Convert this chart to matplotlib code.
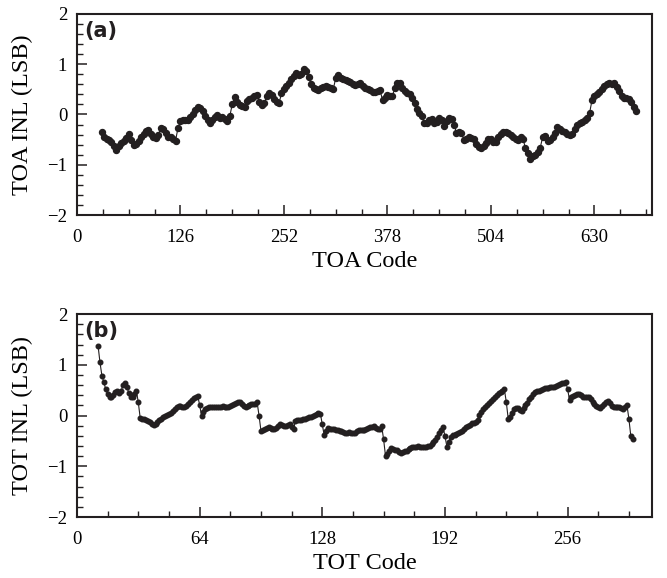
import numpy as np
import matplotlib
matplotlib.use("Agg")
import matplotlib.pyplot as plt
from matplotlib.ticker import MultipleLocator

# INL, TOA every 3rd code starting at 30
toa_start = 30
toa_inl = [
    -0.34, -0.44, -0.49, -0.51, -0.55, -0.62, -0.70, -0.63, -0.57, -0.53,
    -0.47, -0.38, -0.50, -0.61, -0.58, -0.52, -0.45, -0.38, -0.33, -0.31,
    -0.38, -0.45, -0.46, -0.41, -0.27, -0.28, -0.37, -0.44, -0.45, -0.48,
    -0.52, -0.27, -0.14, -0.11, -0.12, -0.11, -0.05, 0.01, 0.09, 0.15,
    0.13, 0.07, -0.04, -0.11, -0.18, -0.12, -0.05, -0.02, -0.08, -0.05,
    -0.09, -0.13, -0.04, 0.20, 0.35, 0.24, 0.19, 0.16, 0.15, 0.26,
    0.30, 0.32, 0.36, 0.39, 0.25, 0.19, 0.22, 0.36, 0.42, 0.39,
    0.31, 0.25, 0.22, 0.42, 0.50, 0.56, 0.62, 0.70, 0.76, 0.82,
    0.79, 0.80, 0.90, 0.86, 0.75, 0.60, 0.52, 0.51, 0.49, 0.52,
    0.55, 0.57, 0.54, 0.52, 0.50, 0.72, 0.78, 0.73, 0.71, 0.68,
    0.66, 0.64, 0.61, 0.58, 0.60, 0.62, 0.57, 0.53, 0.51, 0.48,
    0.45, 0.44, 0.47, 0.49, 0.28, 0.33, 0.39, 0.36, 0.37, 0.52,
    0.62, 0.63, 0.52, 0.47, 0.43, 0.40, 0.33, 0.22, 0.10, 0.03,
    -0.04, -0.18, -0.17, -0.12, -0.09, -0.17, -0.15, -0.08, -0.12, -0.22,
    -0.14, -0.08, -0.10, -0.20, -0.36, -0.35, -0.36, -0.50, -0.49, -0.44,
    -0.46, -0.49, -0.58, -0.64, -0.67, -0.62, -0.56, -0.49, -0.48, -0.54,
    -0.55, -0.45, -0.39, -0.34, -0.35, -0.37, -0.41, -0.44, -0.48, -0.51,
    -0.45, -0.48, -0.67, -0.77, -0.88, -0.82, -0.80, -0.75, -0.66, -0.45,
    -0.42, -0.52, -0.50, -0.45, -0.36, -0.25, -0.28, -0.32, -0.35, -0.38,
    -0.40, -0.39, -0.28, -0.20, -0.17, -0.15, -0.11, -0.07, 0.02, 0.28,
    0.37, 0.41, 0.44, 0.50, 0.57, 0.60, 0.62, 0.61, 0.62, 0.55,
    0.46, 0.36, 0.32, 0.33, 0.30, 0.24, 0.14, 0.07,
]

# TOT every code starting at 11
tot_start = 11
tot_inl = [
    1.38, 1.05, 0.79, 0.66, 0.52, 0.42, 0.36, 0.36, 0.40, 0.47,
    0.49, 0.45, 0.48, 0.60, 0.65, 0.57, 0.45, 0.37, 0.36, 0.42,
    0.49, 0.26, -0.05, -0.06, -0.07, -0.08, -0.10, -0.13, -0.17, -0.19,
    -0.16, -0.12, -0.09, -0.06, -0.03, 0.00, 0.02, 0.03, 0.05, 0.09,
    0.13, 0.16, 0.19, 0.18, 0.16, 0.16, 0.19, 0.23, 0.26, 0.30,
    0.34, 0.37, 0.39, 0.21, 0.00, 0.07, 0.13, 0.15, 0.16, 0.16,
    0.17, 0.17, 0.17, 0.16, 0.17, 0.18, 0.17, 0.16, 0.16, 0.18,
    0.21, 0.23, 0.25, 0.27, 0.26, 0.22, 0.18, 0.17, 0.19, 0.21,
    0.22, 0.23, 0.23, 0.26, 0.00, -0.30, -0.28, -0.26, -0.24, -0.23,
    -0.24, -0.27, -0.27, -0.24, -0.20, -0.17, -0.19, -0.21, -0.20, -0.18,
    -0.17, -0.22, -0.27, -0.10, -0.09, -0.09, -0.08, -0.07, -0.07, -0.05,
    -0.03, -0.02, 0.00, 0.02, 0.04, 0.05, 0.04, -0.17, -0.39, -0.30,
    -0.25, -0.26, -0.26, -0.27, -0.28, -0.28, -0.30, -0.30, -0.32, -0.34,
    -0.35, -0.33, -0.34, -0.35, -0.34, -0.31, -0.29, -0.28, -0.29, -0.28,
    -0.27, -0.25, -0.23, -0.22, -0.21, -0.24, -0.27, -0.26, -0.21, -0.47,
    -0.80, -0.76, -0.70, -0.64, -0.65, -0.67, -0.68, -0.71, -0.74, -0.72,
    -0.70, -0.69, -0.66, -0.63, -0.62, -0.62, -0.61, -0.60, -0.61, -0.62,
    -0.61, -0.61, -0.60, -0.60, -0.57, -0.52, -0.48, -0.42, -0.35, -0.28,
    -0.23, -0.40, -0.61, -0.53, -0.42, -0.39, -0.38, -0.37, -0.34, -0.32,
    -0.30, -0.26, -0.22, -0.20, -0.18, -0.15, -0.14, -0.12, -0.09, 0.02,
    0.08, 0.13, 0.17, 0.21, 0.25, 0.28, 0.32, 0.36, 0.40, 0.44,
    0.46, 0.48, 0.52, 0.27, -0.06, -0.03, 0.06, 0.13, 0.14, 0.14,
    0.11, 0.10, 0.15, 0.21, 0.25, 0.32, 0.37, 0.42, 0.47, 0.48,
    0.49, 0.51, 0.53, 0.54, 0.54, 0.55, 0.56, 0.56, 0.57, 0.59,
    0.61, 0.62, 0.64, 0.65, 0.67, 0.52, 0.31, 0.37, 0.39, 0.41,
    0.43, 0.43, 0.40, 0.37, 0.36, 0.37, 0.36, 0.33, 0.27, 0.23,
    0.19, 0.16, 0.14, 0.18, 0.22, 0.26, 0.29, 0.24, 0.19, 0.17,
    0.17, 0.16, 0.16, 0.15, 0.13, 0.16, 0.20, -0.07, -0.41, -0.47,
]

toa_ticks = [0, 126, 252, 378, 504, 630]
tot_ticks = [0, 64, 128, 192, 256]

toa_code = np.arange(toa_start, toa_start + 3 * len(toa_inl), 3)
tot_code = np.arange(tot_start, tot_start + len(tot_inl))

ink = "#231f20"
serif = "Liberation Serif"

fig = plt.figure(figsize=(6.67, 5.78), dpi=100)
ax1 = fig.add_axes([0.1154, 0.628, 0.862, 0.348])
ax2 = fig.add_axes([0.1154, 0.1055, 0.862, 0.351])

panels = [
    (ax1, toa_code, toa_inl, 700, toa_ticks, 31.5, "TOA Code", "TOA INL (LSB)", "(a)", 4.3),
    (ax2, tot_code, tot_inl, 300, tot_ticks, 16, "TOT Code", "TOT INL (LSB)", "(b)", 3.3),
]

for ax, x, y, xmax, ticks, minor, xlab, ylab, tag, ms in panels:
    ax.plot(x, y, "-o", color=ink, lw=0.8, ms=ms, mec=ink, mfc=ink)
    ax.set_xlim(0, xmax)
    ax.set_ylim(-2, 2)
    ax.set_xticks(ticks)
    ax.set_yticks([-2, -1, 0, 1, 2])
    ax.xaxis.set_minor_locator(MultipleLocator(minor))
    ax.yaxis.set_minor_locator(MultipleLocator(0.2))
    ax.tick_params(which="both", direction="in", color=ink, top=False, right=False)
    ax.tick_params(which="major", length=7, width=1.1, labelsize=13.5)
    ax.tick_params(axis="x", which="major", pad=10)
    ax.tick_params(axis="y", which="major", pad=7)
    ax.tick_params(which="minor", length=4, width=1.0)
    for lab in ax.get_xticklabels() + ax.get_yticklabels():
        lab.set_family(serif)
    for sp in ax.spines.values():
        sp.set_linewidth(1.5)
        sp.set_color(ink)
    ax.set_xlabel(xlab, family=serif, fontsize=17.5, labelpad=4)
    ax.set_ylabel(ylab, family=serif, fontsize=17.5, labelpad=10)
    ax.text(0.013, 0.965, tag, transform=ax.transAxes, ha="left", va="top",
            family="DejaVu Sans", fontweight="bold", fontsize=15, color=ink)

fig.savefig("out.png", dpi=100)
